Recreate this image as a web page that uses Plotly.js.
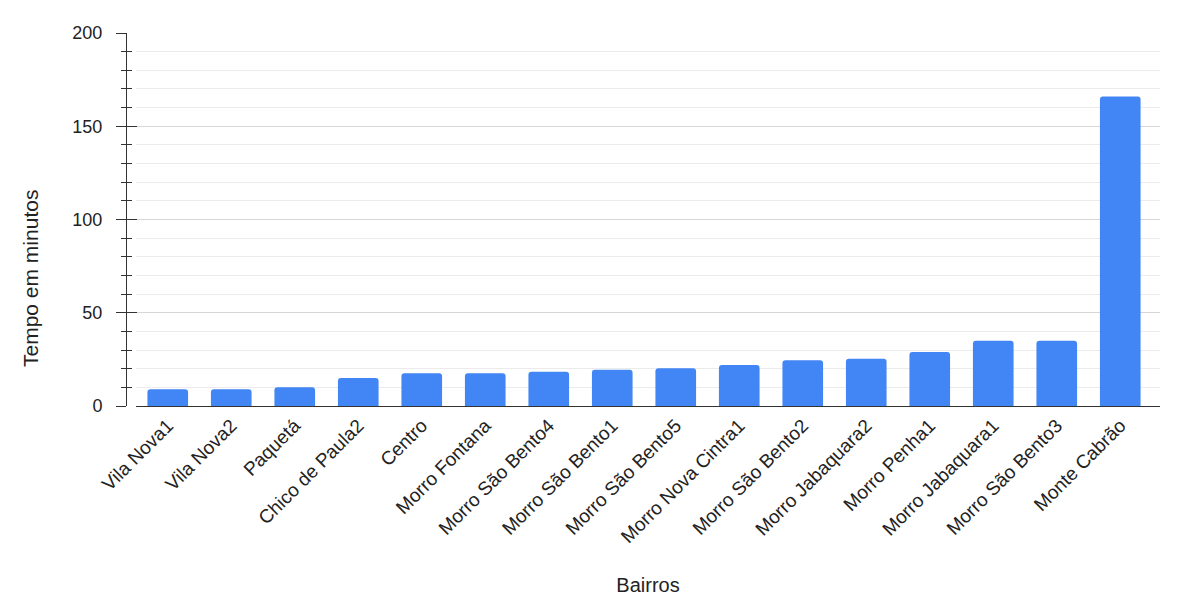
<!DOCTYPE html>
<html>
<head>
<meta charset="utf-8">
<script src="https://cdn.plot.ly/plotly-3.0.1.min.js"></script>
<style>html,body{margin:0;padding:0;background:#fff;}#chart{width:1192px;height:607px;}</style>
</head>
<body>
<div id="chart"></div>
<script>
const bairros = ["Vila Nova1","Vila Nova2","Paquetá","Chico de Paula2","Centro","Morro Fontana","Morro São Bento4","Morro São Bento1","Morro São Bento5","Morro Nova Cintra1","Morro São Bento2","Morro Jabaquara2","Morro Penha1","Morro Jabaquara1","Morro São Bento3","Monte Cabrão"];
const tempos = [9, 9, 10, 15, 17.5, 17.5, 18.4, 19.5, 20.2, 22, 24.5, 25.4, 28.9, 35, 35, 166];
const yTickVals = [0, 50, 100, 150, 200];
const xTitle = "Bairros";
const yTitle = "Tempo em minutos";

const FAM = "'Liberation Sans', Arial, sans-serif";
const xTickFont = {family: FAM, size: 19, color: "#222"};
const yTickFont = {family: FAM, size: 18, color: "#222"};
const titleFont = {family: FAM, size: 20, color: "#222"};

const data = [{
  type: "bar",
  x: bairros,
  y: tempos,
  marker: {color: "#4285F4"},
  hoverinfo: "x+y"
}, {
  type: "scatter", x: [bairros[0]], y: [0], yaxis: "y2",
  mode: "markers", marker: {opacity: 0}, showlegend: false, hoverinfo: "skip"
}];

const layout = {
  width: 1192, height: 607,
  margin: {l: 126, r: 32, t: 33, b: 201},
  paper_bgcolor: "#fff", plot_bgcolor: "#fff",
  showlegend: false,
  bargap: 0.36,
  barcornerradius: 3,
  font: {family: FAM, size: 18, color: "#222"},
  xaxis: {
    domain: [10/1034, 1],
    type: "category",
    range: [-0.5, 15.626],
    tickangle: -45,
    ticks: "",
    showgrid: false,
    showline: true, linecolor: "#333", linewidth: 1,
    tickfont: xTickFont,
    title: {text: xTitle, font: titleFont, standoff: 31},
    automargin: false
  },
  yaxis: {
    anchor: "free", position: 0,
    range: [0, 200],
    tickvals: yTickVals,
    ticks: "outside", ticklen: 10, tickwidth: 1, tickcolor: "#333",
    showline: true, linecolor: "#333", linewidth: 1,
    zeroline: false,
    gridcolor: "#d6d6d6", gridwidth: 1,
    minor: {dtick: 10, showgrid: true, gridcolor: "#ebebeb", ticks: "outside", ticklen: 5, tickcolor: "#333"},
    tickfont: yTickFont,
    ticklabelstandoff: 10,
    automargin: false
  },
  yaxis2: {
    overlaying: "y", anchor: "free", position: 0,
    range: [0, 200],
    tickvals: yTickVals,
    ticks: "inside", ticklen: 10, tickwidth: 1, tickcolor: "#333",
    showticklabels: false, showgrid: false, zeroline: false, showline: false,
    minor: {dtick: 10, showgrid: false, ticks: "inside", ticklen: 5, tickcolor: "#333"}
  },
  annotations: [{
    text: yTitle, textangle: -90, showarrow: false,
    xref: "paper", yref: "paper",
    x: (30 - 126) / 1034, y: (406 - 279) / 373,
    xanchor: "center", yanchor: "middle",
    font: {family: FAM, size: 21, color: "#222"}
  }]
};

Plotly.newPlot("chart", data, layout, {displayModeBar: false, responsive: false});
</script>
</body>
</html>
